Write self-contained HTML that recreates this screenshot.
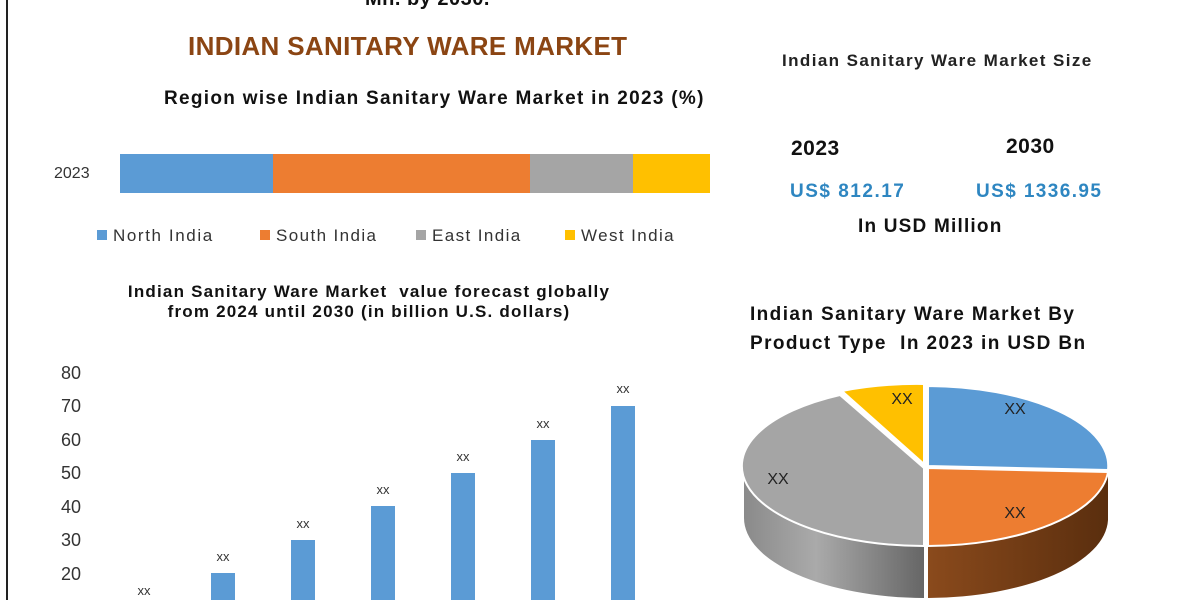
<!DOCTYPE html>
<html><head><meta charset="utf-8"><style>
body{margin:0;width:1200px;height:600px;background:#fff;overflow:hidden;position:relative;font-family:"Liberation Sans",sans-serif}
.t{position:absolute;white-space:nowrap}
.b{font-weight:bold}
</style></head><body>
<div style="position:absolute;left:6px;top:0;width:2px;height:600px;background:#222"></div>
<div class="t b" style="left:365px;top:-12px;font-size:20px;color:#111;letter-spacing:0.5px">Mn. by 2030.</div>
<div class="t b" style="left:188px;top:31px;font-size:26px;color:#8b4513;letter-spacing:0.35px">INDIAN SANITARY WARE MARKET</div>
<div class="t b" style="left:164px;top:88px;font-size:19px;color:#111;letter-spacing:1.3px">Region wise Indian Sanitary Ware Market in 2023 (%)</div>
<div class="t" style="left:54px;top:165px;font-size:16px;color:#333">2023</div>
<div style="position:absolute;top:154px;height:39px;left:120px;width:153px;background:#5b9bd5"></div>
<div style="position:absolute;top:154px;height:39px;left:273px;width:257px;background:#ed7d31"></div>
<div style="position:absolute;top:154px;height:39px;left:530px;width:103px;background:#a5a5a5"></div>
<div style="position:absolute;top:154px;height:39px;left:633px;width:77px;background:#ffc000"></div>
<div style="position:absolute;top:230px;left:97px;width:10px;height:10px;background:#5b9bd5"></div>
<div class="t" style="left:113px;top:226px;font-size:17px;color:#333;letter-spacing:1.6px">North India</div>
<div style="position:absolute;top:230px;left:260px;width:10px;height:10px;background:#ed7d31"></div>
<div class="t" style="left:276px;top:226px;font-size:17px;color:#333;letter-spacing:1.4px">South India</div>
<div style="position:absolute;top:230px;left:416px;width:10px;height:10px;background:#a5a5a5"></div>
<div class="t" style="left:432px;top:226px;font-size:17px;color:#333;letter-spacing:1.4px">East India</div>
<div style="position:absolute;top:230px;left:565px;width:10px;height:10px;background:#ffc000"></div>
<div class="t" style="left:581px;top:226px;font-size:17px;color:#333;letter-spacing:1.4px">West India</div>

<div class="t b" style="left:782px;top:51px;font-size:17px;color:#222;letter-spacing:1.4px">Indian Sanitary Ware Market Size</div>
<div class="t b" style="left:791px;top:137px;font-size:21px;color:#111;letter-spacing:0.5px">2023</div>
<div class="t b" style="left:1006px;top:135px;font-size:21px;color:#111;letter-spacing:0.5px">2030</div>
<div class="t b" style="left:790px;top:181px;font-size:19px;color:#2e86c1;letter-spacing:1.5px">US$ 812.17</div>
<div class="t b" style="left:976px;top:181px;font-size:19px;color:#2e86c1;letter-spacing:1.4px">US$ 1336.95</div>
<div class="t b" style="left:858px;top:216px;font-size:19px;color:#111;letter-spacing:1.2px">In USD Million</div>

<div class="t b" style="left:124px;top:282px;font-size:17px;color:#111;text-align:center;width:490px;letter-spacing:1.2px">Indian Sanitary Ware Market&nbsp; value forecast globally<br>from 2024 until 2030 (in billion U.S. dollars)</div>
<div class="t b" style="left:750px;top:300px;font-size:19px;color:#111;line-height:29px;letter-spacing:1.4px">Indian Sanitary Ware Market By<br>Product Type&nbsp; In 2023 in USD Bn</div>

<svg style="position:absolute;left:0;top:0" width="1200" height="600">
<g font-family="Liberation Sans" font-size="18" fill="#333" text-anchor="end">
<text x="81" y="379">80</text><text x="81" y="412">70</text><text x="81" y="446">60</text><text x="81" y="479">50</text><text x="81" y="513">40</text><text x="81" y="546">30</text><text x="81" y="580">20</text>
</g>
<g fill="#5b9bd5">
<rect x="211" y="573" width="24" height="30"/><rect x="291" y="540" width="24" height="70"/><rect x="371" y="506" width="24" height="100"/><rect x="451" y="473" width="24" height="130"/><rect x="531" y="440" width="24" height="170"/><rect x="611" y="406" width="24" height="200"/>
</g>
<g font-family="Liberation Sans" font-size="13" fill="#333" text-anchor="middle">
<text x="144" y="595">xx</text><text x="223" y="561">xx</text><text x="303" y="528">xx</text><text x="383" y="494">xx</text><text x="463" y="461">xx</text><text x="543" y="428">xx</text><text x="623" y="393">xx</text>
</g>
<defs>
<linearGradient id="gs" x1="0" x2="1"><stop offset="0" stop-color="#8a8a8a"/><stop offset="0.4" stop-color="#aaa"/><stop offset="1" stop-color="#666"/></linearGradient>
<linearGradient id="os" x1="0" x2="1"><stop offset="0" stop-color="#8a4a1c"/><stop offset="1" stop-color="#5a2e0e"/></linearGradient>
</defs>
<path d="M744,466 A182,80 0 0 0 924,546 L924,598 A182,80 0 0 1 744,518 Z" fill="url(#gs)"/>
<path d="M928,546 A182,80 0 0 0 1108,470 L1108,520 A182,80 0 0 1 928,598 Z" fill="url(#os)"/>
<path d="M928,466 L928,386 A182,80 0 0 1 1108,470 Z" fill="#5b9bd5" stroke="#fff" stroke-width="2"/>
<path d="M928,468 L1108,472 A182,80 0 0 1 928,546 Z" fill="#ed7d31" stroke="#fff" stroke-width="2"/>
<path d="M924,468 L924,546 A182,80 0 0 1 840,395 Z" fill="#a5a5a5" stroke="#fff" stroke-width="2"/>
<path d="M924,464 L842,391 A182,80 0 0 1 924,384 Z" fill="#ffc000" stroke="#fff" stroke-width="2"/>
<g font-family="Liberation Sans" font-size="16" fill="#222" text-anchor="middle">
<text x="1015" y="414">XX</text><text x="1015" y="518">XX</text><text x="778" y="484">XX</text><text x="902" y="404">XX</text>
</g>
</svg>
</body></html>
